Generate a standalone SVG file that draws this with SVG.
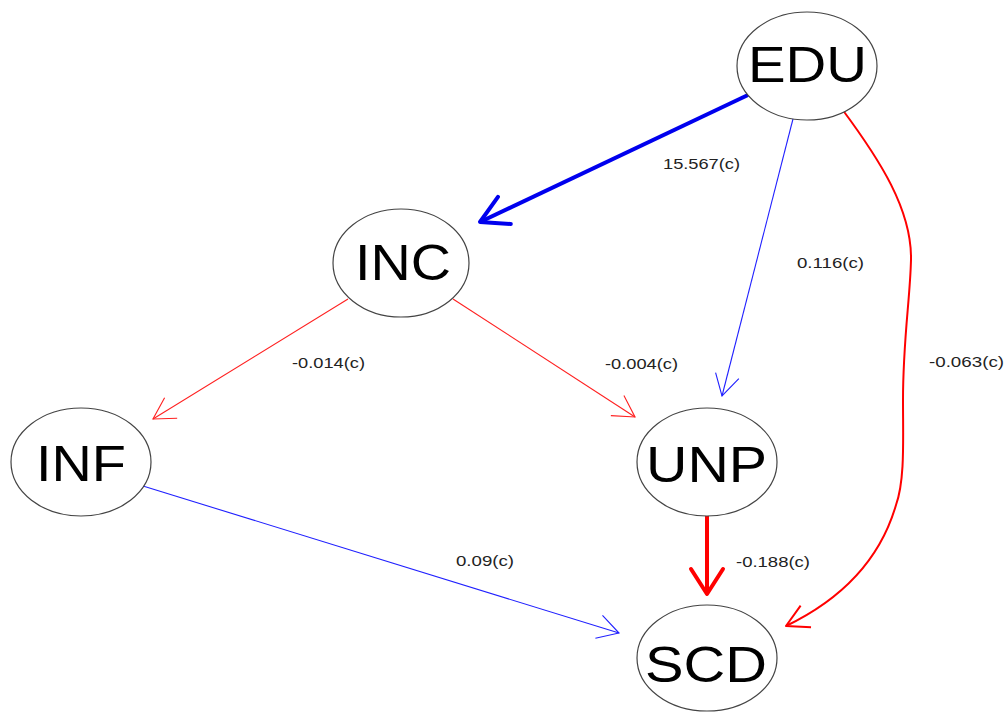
<svg xmlns="http://www.w3.org/2000/svg" width="1006" height="715" viewBox="0 0 1006 715">
<style>
.node ellipse{fill:#fff;stroke:#444;stroke-width:1.2}
.node text{font-family:"Liberation Sans",Arial,sans-serif;font-size:50px;fill:#000;text-anchor:start}
.lbl{font-family:"Liberation Sans",Arial,sans-serif;font-size:15px;fill:#222}
.e{fill:none}
.tr{stroke:#ff2020;stroke-width:1.1}
.tb{stroke:#2020ff;stroke-width:1.1}
.mr{stroke:#ff0000;stroke-width:2}
.kr{stroke:#ff0000;stroke-width:4}
.kb{stroke:#0000ee;stroke-width:4}
</style>
<defs>
<marker id="mtr" markerUnits="userSpaceOnUse" orient="auto" viewBox="-30 -20 35 40" markerWidth="35" markerHeight="40" refX="0" refY="0"><path d="M-21 -12 L0 0 L-21 12" fill="none" stroke="#ff2020" stroke-width="1.1"/></marker>
<marker id="mtb" markerUnits="userSpaceOnUse" orient="auto" viewBox="-30 -20 35 40" markerWidth="35" markerHeight="40" refX="0" refY="0"><path d="M-21 -12 L0 0 L-21 12" fill="none" stroke="#2020ff" stroke-width="1.1"/></marker>
<marker id="mmr" markerUnits="userSpaceOnUse" orient="auto" viewBox="-30 -20 35 40" markerWidth="35" markerHeight="40" refX="0" refY="0"><path d="M-22 -12 L0 0 L-22 12" fill="none" stroke="#ff0000" stroke-width="2" stroke-linejoin="round"/></marker>
<marker id="mkr" markerUnits="userSpaceOnUse" orient="auto" viewBox="-35 -25 40 50" markerWidth="40" markerHeight="50" refX="0" refY="0"><path d="M-25 -16 L0 0 L-25 16" fill="none" stroke="#ff0000" stroke-width="4" stroke-linecap="round" stroke-linejoin="round"/></marker>
<marker id="mkb" markerUnits="userSpaceOnUse" orient="auto" viewBox="-35 -25 40 50" markerWidth="40" markerHeight="50" refX="0" refY="0"><path d="M-27 -15 L0 0 L-27 15" fill="none" stroke="#0000ee" stroke-width="4" stroke-linecap="round" stroke-linejoin="round"/></marker>
</defs>
<g id="connectors">
<path class="e kb" d="M748 95 L480 222" marker-end="url(#mkb)"/>
<path class="e tb" d="M794 115 L722 396" marker-end="url(#mtb)"/>
<path class="e mr" d="M842 109 C880 160 912 210 911 260 C910 300 903 340 903 400 C903 440 905 480 896 505 C880 560 840 600 786 626" marker-end="url(#mmr)"/>
<path class="e tr" d="M348 299 L153 419" marker-end="url(#mtr)"/>
<path class="e tr" d="M453 299 L635 417" marker-end="url(#mtr)"/>
<path class="e tb" d="M143 486 L619 633" marker-end="url(#mtb)"/>
<path class="e kr" d="M707 514 L707 594" marker-end="url(#mkr)"/>
<text class="lbl" x="663" y="169" textLength="77" lengthAdjust="spacingAndGlyphs">15.567(c)</text>
<text class="lbl" x="797" y="268" textLength="67" lengthAdjust="spacingAndGlyphs">0.116(c)</text>
<text class="lbl" x="929" y="367" textLength="75" lengthAdjust="spacingAndGlyphs">-0.063(c)</text>
<text class="lbl" x="292" y="368" textLength="73" lengthAdjust="spacingAndGlyphs">-0.014(c)</text>
<text class="lbl" x="605" y="369" textLength="73" lengthAdjust="spacingAndGlyphs">-0.004(c)</text>
<text class="lbl" x="456" y="566" textLength="58" lengthAdjust="spacingAndGlyphs">0.09(c)</text>
<text class="lbl" x="736" y="567" textLength="74" lengthAdjust="spacingAndGlyphs">-0.188(c)</text>
</g>
<g id="EDU" class="node"><ellipse cx="807" cy="66" rx="70" ry="54"/><text x="748" y="82" textLength="119" lengthAdjust="spacingAndGlyphs">EDU</text></g>
<g id="INC" class="node"><ellipse cx="401" cy="263" rx="68" ry="54"/><text x="355" y="280" textLength="96" lengthAdjust="spacingAndGlyphs">INC</text></g>
<g id="INF" class="node"><ellipse cx="81" cy="462" rx="70" ry="54"/><text x="36" y="481" textLength="90" lengthAdjust="spacingAndGlyphs">INF</text></g>
<g id="UNP" class="node"><ellipse cx="707" cy="462" rx="70" ry="54"/><text x="646" y="482" textLength="121" lengthAdjust="spacingAndGlyphs">UNP</text></g>
<g id="SCD" class="node"><ellipse cx="707" cy="658" rx="70" ry="53"/><text x="645" y="682" textLength="122" lengthAdjust="spacingAndGlyphs">SCD</text></g>
</svg>
